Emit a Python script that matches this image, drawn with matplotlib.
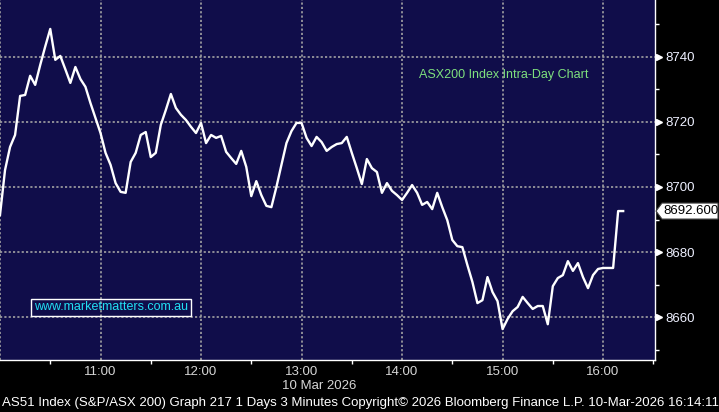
import matplotlib
matplotlib.use("Agg")
import matplotlib.pyplot as plt
import matplotlib.dates as mdates
import matplotlib.transforms as mtransforms
from matplotlib.patches import Polygon
import pandas as pd

plt.rcParams['font.family'] = ['Liberation Sans', 'DejaVu Sans']

# ASX200 3-minute bars, 10 Mar 2026 from 10:00
values = [
    8691.4, 8705.2, 8712.3, 8716.0, 8728.0, 8728.3, 8734.2, 8731.4, 8737.5, 8743.2,
    8748.6, 8739.1, 8740.3, 8736.2, 8732.0, 8736.9, 8733.2, 8730.8, 8725.8, 8721.2,
    8716.6, 8710.5, 8706.8, 8701.2, 8698.5, 8698.2, 8707.7, 8710.5, 8716.0, 8716.9,
    8709.2, 8710.5, 8719.1, 8723.7, 8728.6, 8724.3, 8722.2, 8720.6, 8718.5, 8716.6,
    8719.7, 8713.5, 8716.0, 8715.1, 8715.7, 8710.8, 8708.9, 8707.1, 8711.1, 8706.2,
    8697.2, 8701.8, 8697.5, 8694.2, 8693.8, 8700.0, 8706.8, 8713.5, 8717.2, 8719.7,
    8719.7, 8715.1, 8712.6, 8715.4, 8713.8, 8711.1, 8712.3, 8713.2, 8713.5, 8715.4,
    8710.5, 8705.8, 8700.9, 8708.6, 8705.8, 8704.6, 8698.2, 8701.2, 8698.8, 8697.5,
    8696.0, 8698.2, 8700.6, 8698.2, 8694.5, 8695.4, 8693.2, 8698.2, 8693.8, 8689.8,
    8683.7, 8681.8, 8681.5, 8676.0, 8670.8, 8664.3, 8665.2, 8672.3, 8667.7, 8664.9,
    8656.3, 8659.4, 8661.8, 8663.1, 8666.2, 8664.3, 8662.5, 8663.4, 8663.4, 8657.8,
    8669.5, 8672.0, 8672.9, 8677.2, 8674.2, 8676.6, 8672.3, 8668.9, 8672.9, 8674.8,
    8675.1, 8675.1, 8675.1, 8692.6, 8692.6,
]
times = pd.date_range("2026-03-10 10:00", periods=len(values), freq="3min")
last_price = 8692.600

y_major = [8660, 8680, 8700, 8720, 8740]
y_minor = [8650, 8670, 8690, 8710, 8730, 8750]
x_major = pd.date_range("2026-03-10 11:00", "2026-03-10 16:00", freq="60min")
x_minor = pd.date_range("2026-03-10 10:30", "2026-03-10 16:30", freq="60min")

navy = '#100d4a'
grid_color = '#a3a3a3'
grid_ls = (0, (1.3, 1.3))

fig = plt.figure(figsize=(7.19, 4.12), dpi=100, facecolor='black')
ax = fig.add_axes([0, 52 / 412, 655 / 719, 360 / 412])
ax.set_facecolor(navy)

ax.plot(times, values, color='white', linewidth=1.7, zorder=3)

ax.set_xlim(pd.Timestamp("2026-03-10 10:00"), pd.Timestamp("2026-03-10 16:31"))
ax.set_ylim(8646.8, 8757.5)

# x axis
ax.set_xticks(x_major)
ax.set_xticks(x_minor, minor=True)
ax.xaxis.set_major_formatter(mdates.DateFormatter('%H:%M'))
ax.tick_params(axis='x', which='major', length=0, pad=4, labelsize=9.5, labelcolor='#d6d6d6')
ax.tick_params(axis='x', which='minor', length=3, width=1, color='white')

# y axis on the right
ax.yaxis.tick_right()
ax.set_yticks(y_major)
ax.set_yticks(y_minor, minor=True)
ax.tick_params(axis='y', which='major', length=0, pad=7.5, labelsize=9.5, labelcolor='#eef0ff')
ax.tick_params(axis='y', which='minor', length=3, width=1, color='white')

ax.grid(True, which='major', color=grid_color, linestyle=grid_ls, linewidth=1.2)
ax.axvline(pd.Timestamp("2026-03-10 10:00"), color=grid_color, linestyle=grid_ls, linewidth=1.2)

for side in ['top', 'left']:
    ax.spines[side].set_visible(False)
for side in ['right', 'bottom']:
    ax.spines[side].set_color('white')
    ax.spines[side].set_linewidth(1.0)

# little pointers on the major y ticks
shift = mtransforms.ScaledTranslation(4 / 100, 0, fig.dpi_scale_trans)
ax.plot([1] * len(y_major), y_major, linestyle='none', marker='>', markersize=5,
        color='white', transform=ax.get_yaxis_transform() + shift, clip_on=False)

# last price tag
ax_x, ax_y = ax.get_yaxis_transform().transform((1, last_price))
tag_trans = mtransforms.Affine2D().translate(ax_x, ax_y)
tag = Polygon([(1, 0), (7, 8), (63, 8), (63, -8), (7, -8)], closed=True,
              facecolor='white', edgecolor='#404040', linewidth=0.8, transform=tag_trans)
fig.add_artist(tag)
fig.text(36, 0, f'{last_price:.3f}', transform=tag_trans, ha='center', va='center',
         fontsize=9.5, color='black')

# annotations
ax.text(504 / 655, 1 - 75 / 360, 'ASX200 Index Intra-Day Chart', transform=ax.transAxes,
        ha='center', va='center', fontsize=9, color='#7ee07e')
ax.text(111 / 655, 1 - 307 / 360, 'www.marketmatters.com.au', transform=ax.transAxes,
        ha='center', va='center', fontsize=9, color='#22dff2',
        bbox=dict(boxstyle='square,pad=0.2', facecolor='none', edgecolor='white', linewidth=1))
ax.text(0.487, -26 / 360, '10 Mar 2026', transform=ax.transAxes,
        ha='center', va='center', fontsize=9.5, color='#d6d6d6')

fig.text(2 / 719, 9 / 412,
         'AS51 Index (S&P/ASX 200) Graph 217 1 Days 3 Minutes Copyright\u00a9 2026 '
         'Bloomberg Finance L.P. 10-Mar-2026 16:14:11',
         ha='left', va='center', fontsize=9.5, color='white')

fig.savefig('out.png', dpi=100, facecolor='black')
